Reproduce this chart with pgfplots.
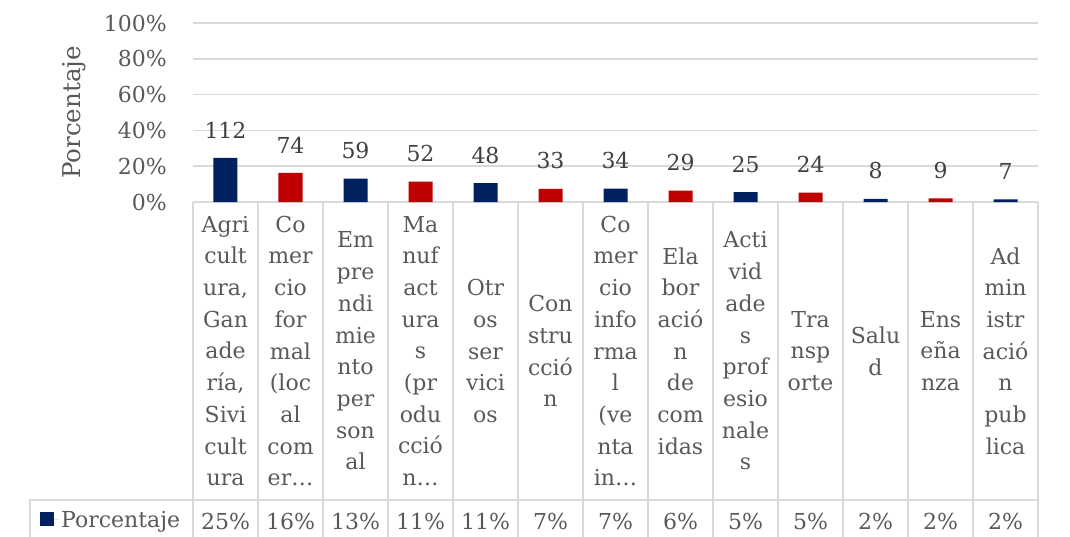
\documentclass[border=0pt]{standalone}
\usepackage{pgfplots}
\pgfplotsset{compat=1.18}
\usepackage{pgfplotstable}
\usepackage{fontspec}
\setmainfont{DejaVu Serif}
\definecolor{navy}{HTML}{002060}
\definecolor{bred}{HTML}{C00000}
\definecolor{gridc}{HTML}{D9D9D9}
\definecolor{txt}{HTML}{595959}
\definecolor{lbl}{HTML}{404040}

\pgfplotstableread{
x pct count
0 24.6 112
2 13.0 59
4 10.5 48
6 7.5 34
8 5.5 25
10 1.8 8
12 1.5 7
}\navydata
\pgfplotstableread{
x pct count
1 16.3 74
3 11.4 52
5 7.3 33
7 6.4 29
9 5.3 24
11 2.0 9
}\reddata

\begin{document}
\begin{tikzpicture}
\begin{axis}[
  at={(0,0)}, anchor=south west,
  scale only axis, width=845pt, height=179pt,
  xmin=-0.5, xmax=12.5, ymin=0, ymax=100,
  ybar, bar width=24pt,
  ytick={0,20,...,100},
  yticklabel={\pgfmathprintnumber{\tick}\%},
  /pgf/number format/assume math mode=true,
  ymajorgrids, grid style={draw=gridc, line width=1.5pt},
  axis line style={draw=none},
  major tick length=0pt,
  tick label style={font=\fontsize{22}{26}\selectfont, text=txt},
  yticklabel style={anchor=east, inner sep=0pt, xshift=-26pt},
  xtick={0,...,12},
  xticklabels={
    {Agri\\cult\\ura,\\Gan\\ade\\ría,\\Sivi\\cult\\ura},
    {Co\\mer\\cio\\for\\mal\\(loc\\al\\com\\er…},
    {Em\\pre\\ndi\\mie\\nto\\per\\son\\al},
    {Ma\\nuf\\act\\ura\\s\\(pr\\odu\\cció\\n…},
    {Otr\\os\\ser\\vici\\os},
    {Con\\stru\\cció\\n},
    {Co\\mer\\cio\\info\\rma\\l\\(ve\\nta\\in…},
    {Ela\\bor\\ació\\n\\de\\com\\idas},
    {Acti\\vid\\ade\\s\\prof\\esio\\nale\\s},
    {Tra\\nsp\\orte},
    {Salu\\d},
    {Ens\\eña\\nza},
    {Ad\\min\\istr\\ació\\n\\pub\\lica}},
  xticklabel style={anchor=center, align=center, inner sep=0pt, yshift=-149pt,
    font=\fontsize{22}{31.7}\selectfont},
  extra x ticks={0,...,12},
  extra x tick labels={25\%,16\%,13\%,11\%,11\%,7\%,7\%,6\%,5\%,5\%,2\%,2\%,2\%},
  extra x tick style={grid=none, xticklabel style={yshift=-170pt}},
  ylabel={Porcentaje},
  every axis y label/.style={at={(axis description cs:-0.1408,0.5)}, anchor=center,
    rotate=90, font=\fontsize{24.5}{28}\selectfont, text=txt},
  legend image code/.code={\fill[navy] (0pt,-6pt) rectangle (13.5pt,7.5pt);
    \path (0pt,0pt) -- (19pt,0pt);},
  legend style={at={(-0.1811,-1.7765)}, anchor=west, draw=none, fill=none,
    inner sep=0pt, font=\fontsize{22}{26}\selectfont, text=txt},
  every node near coord/.append style={font=\fontsize{22}{26}\selectfont, text=lbl,
    anchor=south, inner sep=0pt, yshift=19.5pt},
]
\addplot[ybar, bar shift=0pt, fill=navy, draw=none, nodes near coords,
  point meta=explicit symbolic] table[x=x, y=pct, meta=count] {\navydata};
\addlegendentry{Porcentaje}
\addplot[ybar, bar shift=0pt, fill=bred, draw=none, nodes near coords,
  point meta=explicit symbolic, forget plot] table[x=x, y=pct, meta=count] {\reddata};
\end{axis}
\foreach \k in {0,...,13} {\draw[gridc, line width=1.5pt] ({\k*65pt},0pt) -- ({\k*65pt},-340pt);}
\draw[gridc, line width=1.5pt] (-163pt,-340pt) -- (-163pt,-298pt) -- (845pt,-298pt);
\pgfresetboundingbox
\path (-193pt,-335pt) rectangle (877pt,202pt);
\end{tikzpicture}
\end{document}
